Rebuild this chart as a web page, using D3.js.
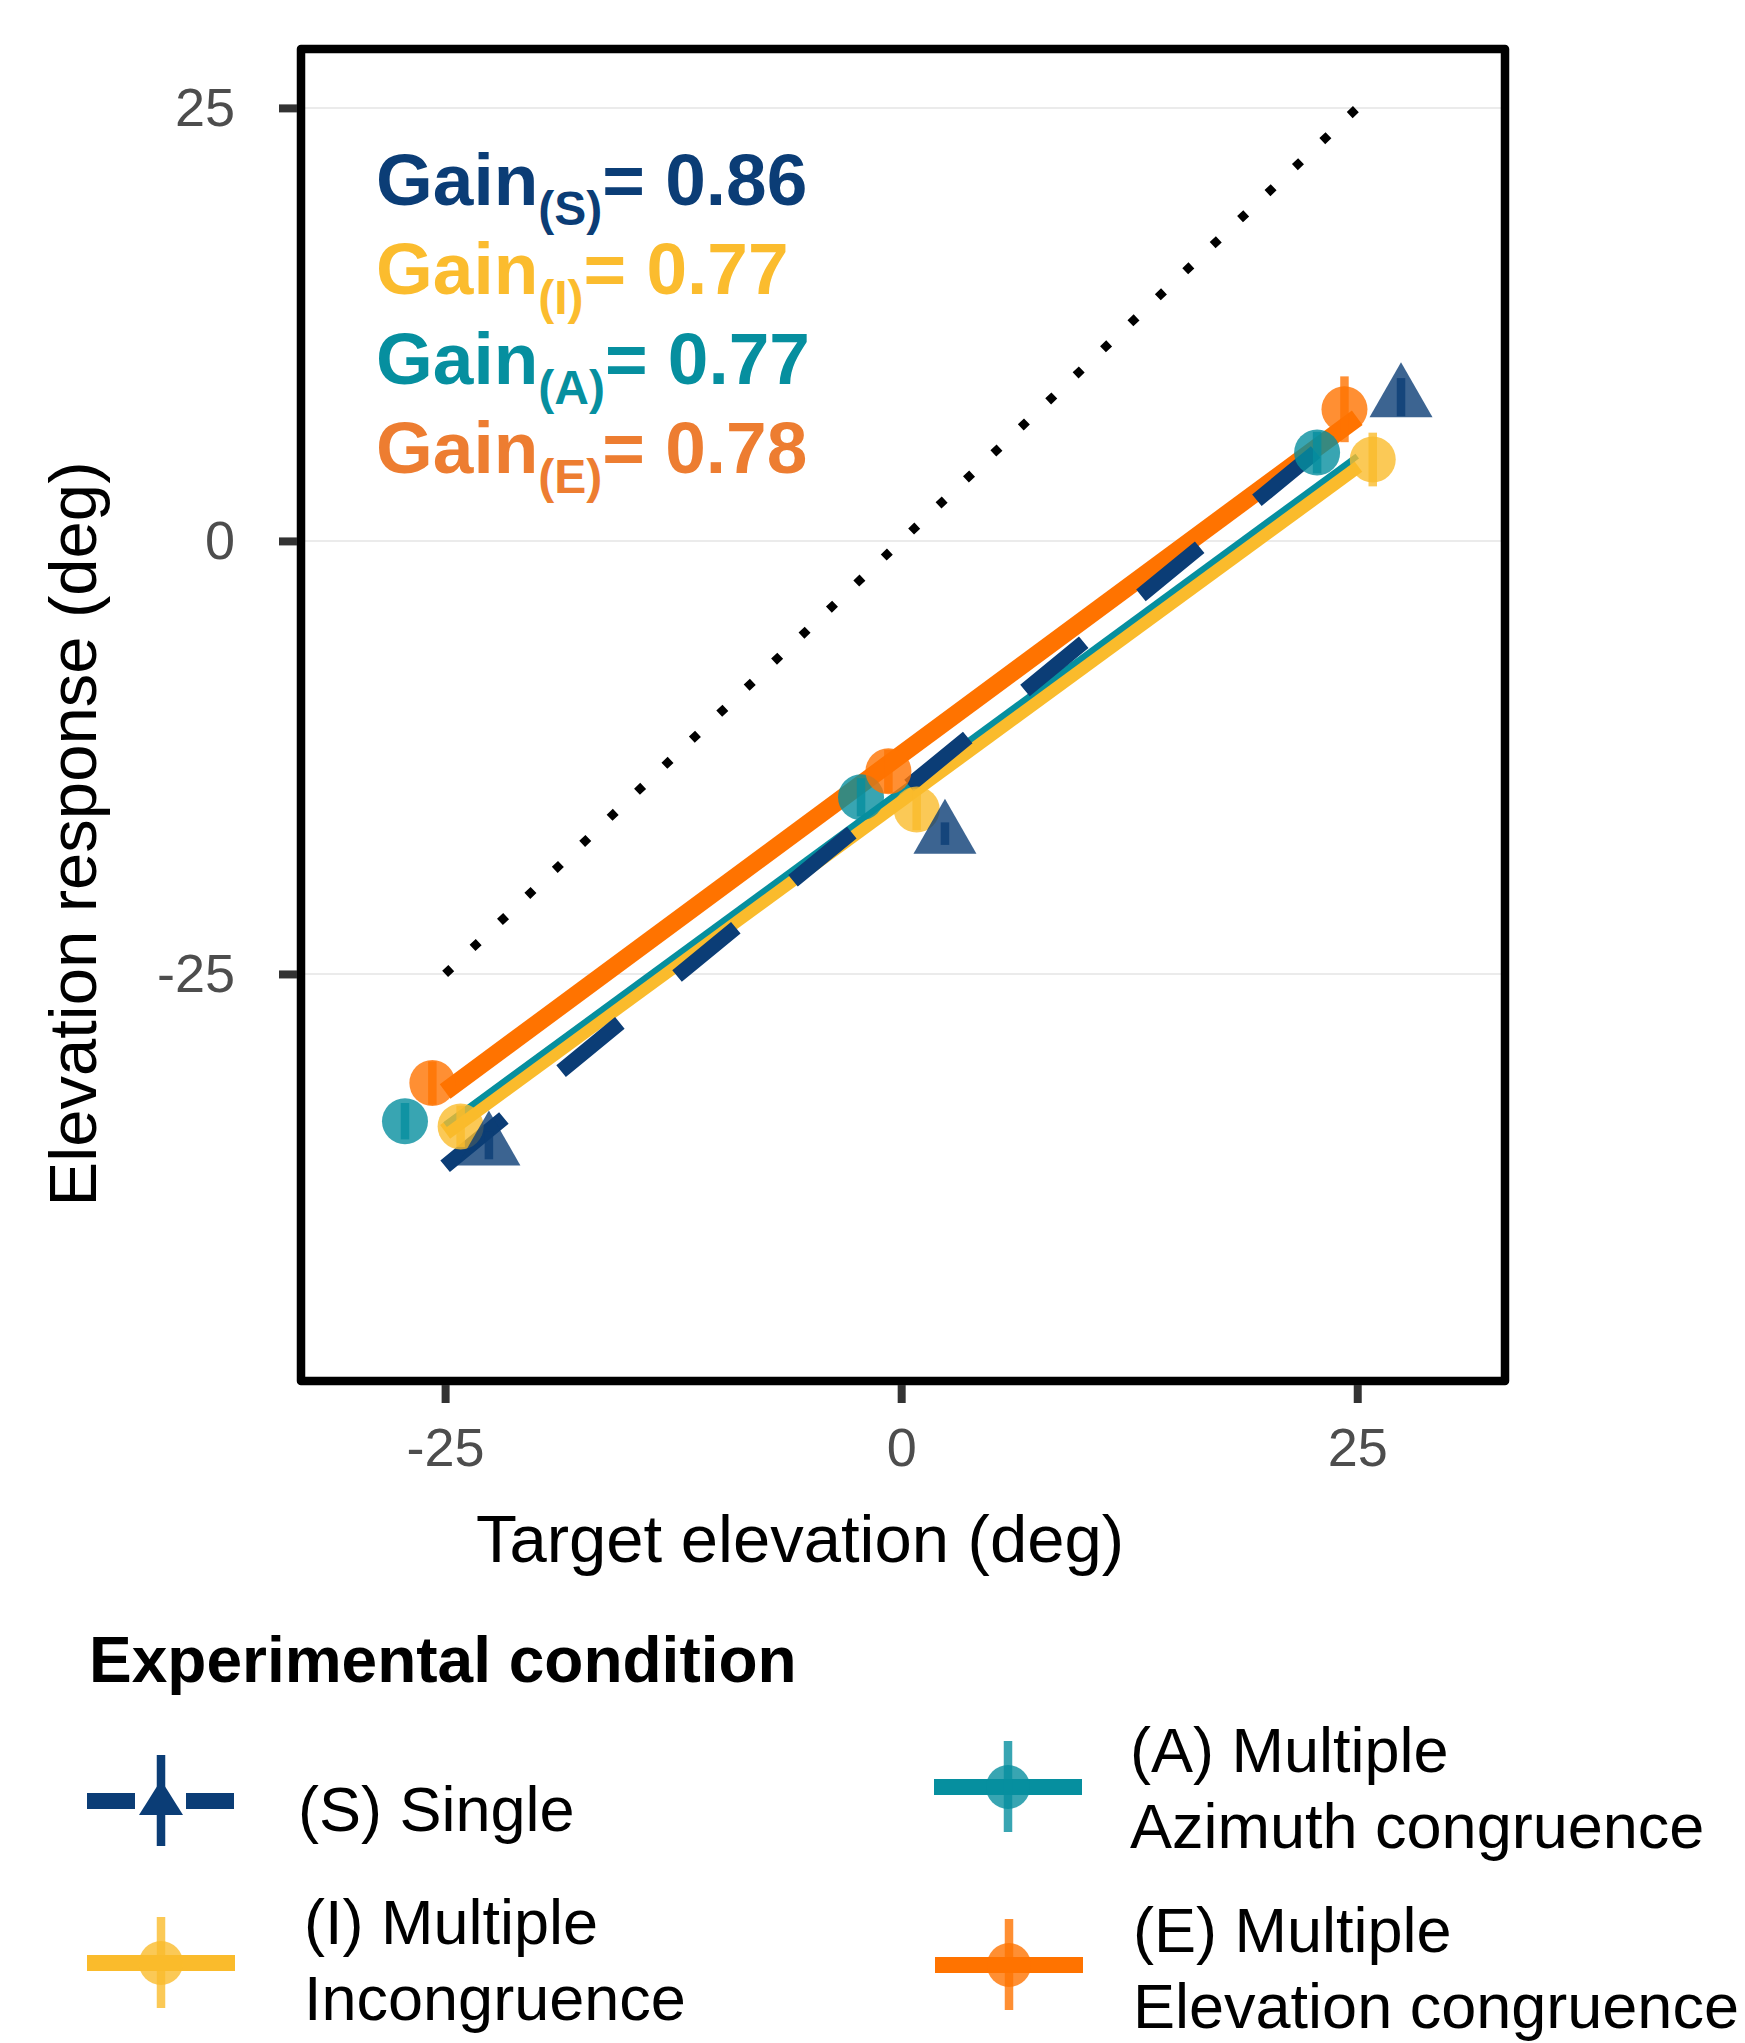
<!DOCTYPE html>
<html>
<head>
<meta charset="utf-8">
<script src="https://cdn.jsdelivr.net/npm/d3@7/dist/d3.min.js"></script>
<style>
  body { margin: 0; background: #ffffff; }
  text { font-family: "Liberation Sans", Arial, Helvetica, sans-serif; }
</style>
</head>
<body>
<div id="chart"></div>
<script>
// data
var conditions = ["S", "I", "A", "E"];
var targetElev = [-25, 0, 25];
var respS = [-34.9, -16.9, 8.3];
var respI = [-33.8, -15.5, 4.7];
var respA = [-33.5, -14.8, 5.1];
var respE = [-31.3, -13.3, 7.6];
var seS = [0.8, 0.65, 1.1];
var seI = [1.2, 1.2, 1.55];
var seA = [1.05, 1.1, 1.2];
var seE = [1.25, 1.25, 1.9];
// dodge offset of the points (deg), per condition
var dodgeOffset = [2.4, 0.85, -2.2, -0.7];
var gainValues = ["0.86", "0.77", "0.77", "0.78"];
var legendLabels = [
  ["(S) Single"],
  ["(I) Multiple", "Incongruence"],
  ["(A) Multiple", "Azimuth congruence"],
  ["(E) Multiple", "Elevation congruence"]
];
var xTicks = [-25, 0, 25];
var yTicks = [-25, 0, 25];
var identityRange = [-25, 25];

// styles
var colors = { S: "#0b3d76", I: "#fabb2c", A: "#068f9f", E: "#ff7300" };
var gainColors = { S: "#0b3d76", I: "#fbbc2e", A: "#068f9f", E: "#ed7d31" };
var lineWidths = { S: 15, I: 17, A: 6, E: 18 };
var responses = { S: respS, I: respI, A: respA, E: respE };
var ses = { S: seS, I: seI, A: seA, E: seE };

var svgWidth = 1745;
var svgHeight = 2043;

var panel = { left: 301, top: 49, right: 1505, bottom: 1381 };

var svg = d3.select("#chart")
  .append("svg")
  .attr("width", svgWidth)
  .attr("height", svgHeight)
  .style("background", "#ffffff");

var xScale = d3.scaleLinear()
  .domain([-32.9, 33.1])
  .range([panel.left, panel.right]);

var yScale = d3.scaleLinear()
  .domain([-48.5, 28.4])
  .range([panel.bottom, panel.top]);

// grid lines (horizontal major only)
svg.append("g")
  .selectAll("line")
  .data(yTicks)
  .enter()
  .append("line")
  .attr("x1", panel.left)
  .attr("x2", panel.right)
  .attr("y1", d => yScale(d))
  .attr("y2", d => yScale(d))
  .attr("stroke", "#ebebeb")
  .attr("stroke-width", 2);

// identity line
svg.append("line")
  .attr("x1", xScale(identityRange[0]))
  .attr("y1", yScale(identityRange[0]))
  .attr("x2", xScale(identityRange[1]))
  .attr("y2", yScale(identityRange[1]))
  .attr("stroke", "#000000")
  .attr("stroke-width", 8.5)
  .attr("stroke-dasharray", "8.5,29.3");

// least squares fit of each condition
function fitLine(xs, ys) {
  var mx = d3.mean(xs), my = d3.mean(ys);
  var num = d3.sum(xs, (x, i) => (x - mx) * (ys[i] - my));
  var den = d3.sum(xs, x => (x - mx) * (x - mx));
  var slope = num / den;
  return { slope: slope, intercept: my - slope * mx };
}

var lineOrder = ["I", "A", "E", "S"];
var lineGroup = svg.append("g");
lineOrder.forEach(function(c) {
  var fit = fitLine(targetElev, responses[c]);
  var x0 = d3.min(targetElev), x1 = d3.max(targetElev);
  var path = d3.line()
    .x(d => xScale(d[0]))
    .y(d => yScale(d[1]));
  lineGroup.append("path")
    .datum([[x0, fit.intercept + fit.slope * x0], [x1, fit.intercept + fit.slope * x1]])
    .attr("d", path)
    .attr("fill", "none")
    .attr("stroke", colors[c])
    .attr("stroke-width", lineWidths[c])
    .attr("stroke-dasharray", c === "S" ? "76,74" : null);
});

// triangle path centred on its mark position
function trianglePath(halfW, up, down) {
  return "M0," + (-up) + "L" + halfW + "," + down + "L" + (-halfW) + "," + down + "Z";
}

// points and error bars
var pointOrder = ["A", "E", "I", "S"];
pointOrder.forEach(function(c) {
  var k = conditions.indexOf(c);
  var pts = targetElev.map((t, i) => ({ x: t + dodgeOffset[k], y: responses[c][i], se: ses[c][i] }));
  var g = svg.append("g");

  if (c === "S") {
    g.selectAll("path")
      .data(pts)
      .enter()
      .append("path")
      .attr("d", trianglePath(31.5, 35, 20))
      .attr("transform", d => `translate(${xScale(d.x)}, ${yScale(d.y)})`)
      .attr("fill", colors[c])
      .attr("fill-opacity", 0.8);
  } else {
    g.selectAll("circle")
      .data(pts)
      .enter()
      .append("circle")
      .attr("cx", d => xScale(d.x))
      .attr("cy", d => yScale(d.y))
      .attr("r", 23)
      .attr("fill", colors[c])
      .attr("fill-opacity", 0.8);
  }

  g.selectAll("line")
    .data(pts)
    .enter()
    .append("line")
    .attr("x1", d => xScale(d.x))
    .attr("x2", d => xScale(d.x))
    .attr("y1", d => yScale(d.y - d.se))
    .attr("y2", d => yScale(d.y + d.se))
    .attr("stroke", colors[c])
    .attr("stroke-opacity", 0.8)
    .attr("stroke-width", 8.5);
});

// gain annotations
var gainGroup = svg.append("g");
conditions.forEach(function(c, i) {
  var t = gainGroup.append("text")
    .attr("x", 376)
    .attr("y", 205 + i * 89.3)
    .attr("fill", gainColors[c])
    .attr("font-weight", "bold")
    .attr("font-size", 73);
  t.append("tspan").text("Gain");
  t.append("tspan").attr("font-size", 48).attr("dy", 20).text("(" + c + ")");
  t.append("tspan").attr("dy", -20).text("= " + gainValues[i]);
});

// panel border
svg.append("rect")
  .attr("x", panel.left)
  .attr("y", panel.top)
  .attr("width", panel.right - panel.left)
  .attr("height", panel.bottom - panel.top)
  .attr("fill", "none")
  .attr("stroke", "#000000")
  .attr("stroke-width", 8.5)
  .attr("stroke-linejoin", "round");

// axes (plain hyphen for negative labels)
var tickFmt = d => String(d);
var leftAxis = d3.axisLeft(yScale).tickValues(yTicks).tickFormat(tickFmt)
  .tickSize(22).tickSizeOuter(0).tickPadding(40);
var bottomAxis = d3.axisBottom(xScale).tickValues(xTicks).tickFormat(tickFmt)
  .tickSize(22).tickSizeOuter(0).tickPadding(21);

var yAxisG = svg.append("g")
  .attr("transform", `translate(${panel.left - 4}, 0)`)
  .call(leftAxis);
yAxisG.select(".domain").remove();

var xAxisG = svg.append("g")
  .attr("transform", `translate(0, ${panel.bottom + 4})`)
  .call(bottomAxis);
xAxisG.select(".domain").remove();

[yAxisG, xAxisG].forEach(function(a) {
  a.selectAll(".tick line").attr("stroke", "#333333").attr("stroke-width", 8);
  a.selectAll(".tick text")
    .attr("fill", "#4d4d4d")
    .attr("font-size", 54)
    .style("font-family", "'Liberation Sans', Arial, sans-serif");
});
yAxisG.selectAll(".tick line").attr("x2", -18);
xAxisG.selectAll(".tick line").attr("y2", 18);

// axis titles
svg.append("text")
  .attr("x", 800)
  .attr("y", 1562)
  .attr("text-anchor", "middle")
  .attr("font-size", 67)
  .attr("fill", "#000000")
  .text("Target elevation (deg)");

svg.append("text")
  .attr("transform", "translate(96, 834) rotate(-90)")
  .attr("text-anchor", "middle")
  .attr("font-size", 67)
  .attr("fill", "#000000")
  .text("Elevation response (deg)");

// legend
svg.append("text")
  .attr("x", 89)
  .attr("y", 1682)
  .attr("font-size", 64)
  .attr("font-weight", "bold")
  .attr("fill", "#000000")
  .text("Experimental condition");

var legendPos = [
  { kx: 87, ky: 1801, lx: 298, ly: 1831 },
  { kx: 87, ky: 1963, lx: 304, ly: 1944 },
  { kx: 934, ky: 1787, lx: 1130, ly: 1772 },
  { kx: 935, ky: 1965, lx: 1133, ly: 1952 }
];

conditions.forEach(function(c, i) {
  var p = legendPos[i];
  var key = svg.append("g").attr("transform", `translate(${p.kx}, ${p.ky})`);
  var keyW = 148;
  key.append("line")
    .attr("x1", 0).attr("x2", keyW)
    .attr("y1", 0).attr("y2", 0)
    .attr("stroke", colors[c])
    .attr("stroke-width", 16)
    .attr("stroke-dasharray", c === "S" ? "48,51" : null);
  key.append("line")
    .attr("x1", keyW / 2).attr("x2", keyW / 2)
    .attr("y1", -46).attr("y2", 45)
    .attr("stroke", colors[c])
    .attr("stroke-opacity", c === "S" ? 1 : 0.8)
    .attr("stroke-width", 8.5);
  if (c === "S") {
    key.append("path")
      .attr("d", trianglePath(22, 21, 14))
      .attr("transform", `translate(${keyW / 2}, 0)`)
      .attr("fill", colors[c]);
  } else {
    key.append("circle")
      .attr("cx", keyW / 2)
      .attr("cy", 0)
      .attr("r", 22)
      .attr("fill", colors[c])
      .attr("fill-opacity", 0.8);
  }
  legendLabels[i].forEach(function(l, j) {
    svg.append("text")
      .attr("x", p.lx)
      .attr("y", p.ly + j * 76)
      .attr("font-size", 63)
      .attr("fill", "#000000")
      .text(l);
  });
});
</script>
</body>
</html>
